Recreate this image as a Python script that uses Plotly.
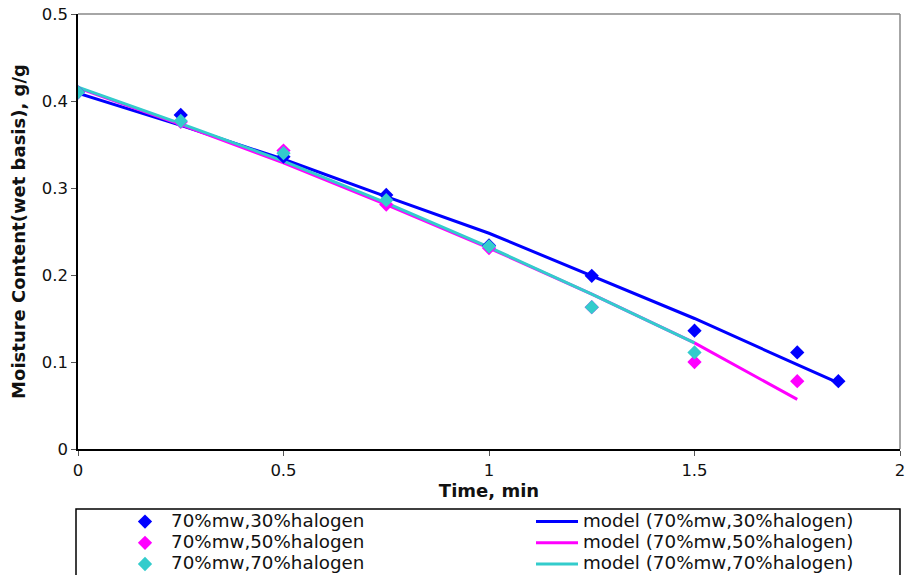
import plotly.graph_objects as go

# ---- data ----
t_30 = [0, 0.25, 0.5, 0.75, 1.0, 1.25, 1.5, 1.75, 1.85]
mc_30 = [0.410, 0.384, 0.336, 0.292, 0.234, 0.199, 0.136, 0.111, 0.078]
t_50 = [0, 0.25, 0.5, 0.75, 1.0, 1.25, 1.5, 1.75]
mc_50 = [0.410, 0.376, 0.343, 0.281, 0.231, 0.163, 0.100, 0.078]
t_70 = [0, 0.25, 0.5, 0.75, 1.0, 1.25, 1.5]
mc_70 = [0.410, 0.377, 0.340, 0.286, 0.233, 0.163, 0.111]

tm_30 = [0, 0.25, 0.5, 0.75, 1.0, 1.25, 1.5, 1.75, 1.85]
model_30 = [0.409, 0.372, 0.333, 0.290, 0.248, 0.199, 0.150, 0.097, 0.076]
tm_50 = [0, 0.25, 0.5, 0.75, 1.0, 1.25, 1.5, 1.75]
model_50 = [0.415, 0.373, 0.329, 0.281, 0.231, 0.178, 0.122, 0.057]
tm_70 = [0, 0.25, 0.5, 0.75, 1.0, 1.25, 1.5]
model_70 = [0.416, 0.374, 0.331, 0.283, 0.232, 0.178, 0.122]

names = ["70%mw,30%halogen", "70%mw,50%halogen", "70%mw,70%halogen"]
colors = ["#0000FF", "#FF00FF", "#33CCCC"]

x_ticks = [0, 0.5, 1, 1.5, 2]
x_tick_labels = ["0", "0.5", "1", "1.5", "2"]
y_ticks = [0, 0.1, 0.2, 0.3, 0.4, 0.5]
y_tick_labels = ["0", "0.1", "0.2", "0.3", "0.4", "0.5"]

FONT = "DejaVu Sans, Verdana, sans-serif"


def big(s):
    return '<span style="font-size:18.3px">' + s + '</span>'


fig = go.Figure()

models = [(tm_30, model_30), (tm_50, model_50), (tm_70, model_70)]
obs = [(t_30, mc_30), (t_50, mc_50), (t_70, mc_70)]

for i, ((tx, ty), nm, c) in enumerate(zip(models, names, colors)):
    fig.add_trace(go.Scatter(x=tx, y=ty, mode="lines", name=big("model (" + nm + ")"),
                             line=dict(color=c, width=3), legendrank=2 * i + 2,
                             hoverinfo="x+y"))
for i, ((tx, ty), nm, c) in enumerate(zip(obs, names, colors)):
    fig.add_trace(go.Scatter(x=tx, y=ty, mode="markers", name=big(nm),
                             marker=dict(symbol="diamond", size=11, color=c),
                             legendrank=2 * i + 1, hoverinfo="x+y"))

W, H = 907, 575
L, R, T, B = 78, 7, 14, 126
pw, ph = W - L - R, H - T - B


def px_x(px):
    return (px - L) / pw


def px_y(py):
    return (H - B - py) / ph


fig.update_layout(
    width=W, height=H,
    margin=dict(l=L, r=R, t=T, b=B, autoexpand=False),
    paper_bgcolor="white", plot_bgcolor="white",
    font=dict(family=FONT, size=16, color="#111111"),
    showlegend=True,
    legend=dict(orientation="h", x=px_x(119), xanchor="left",
                y=px_y(506), yanchor="top",
                entrywidth=355, entrywidthmode="pixels",
                font=dict(family=FONT, size=14, color="#111111"),
                bgcolor="rgba(0,0,0,0)", borderwidth=0,
                tracegroupgap=0, itemwidth=42),
    xaxis=dict(range=[0, 2], tickvals=x_ticks, ticktext=x_tick_labels,
               showgrid=False, zeroline=False, showline=True,
               linecolor="black", linewidth=1.5, ticks="outside",
               ticklen=5, tickcolor="#555555",
               tickfont=dict(family=FONT, size=16.5, color="#111111"),
               title=dict(text="<b>Time, min</b>", standoff=5,
                          font=dict(family=FONT, size=18, color="#111111"))),
    yaxis=dict(range=[0, 0.5], tickvals=y_ticks, ticktext=y_tick_labels,
               showgrid=False, zeroline=False, showline=True,
               linecolor="black", linewidth=1.5, ticks="outside",
               ticklen=5, tickcolor="#555555",
               tickfont=dict(family=FONT, size=16.5, color="#111111"),
               title=dict(text="<b>Moisture Content(wet basis), g/g</b>", standoff=11,
                          font=dict(family=FONT, size=18, color="#111111"))),
    shapes=[
        dict(type="line", xref="paper", yref="paper", x0=0, x1=1, y0=1, y1=1,
             line=dict(color="#888888", width=1.5)),
        dict(type="line", xref="paper", yref="paper", x0=1, x1=1, y0=0, y1=1,
             line=dict(color="#888888", width=1.5)),
        dict(type="rect", xref="paper", yref="paper",
             x0=px_x(76), x1=px_x(900), y0=px_y(509), y1=px_y(590),
             line=dict(color="black", width=1.5), fillcolor="rgba(0,0,0,0)"),
    ],
)

fig.write_html("out.html")
